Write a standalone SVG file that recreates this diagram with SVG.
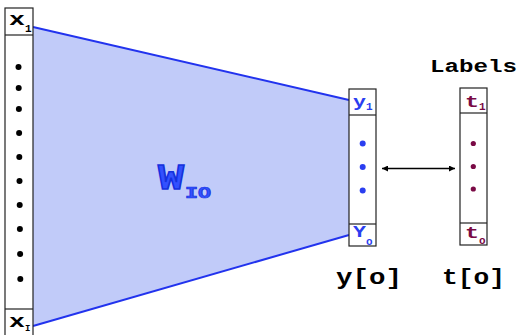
<svg xmlns="http://www.w3.org/2000/svg" width="518" height="335" viewBox="0 0 518 335">
<style>
.box{fill:#fff;stroke:#222;stroke-width:1.2}
.mono{font-family:"Liberation Mono","Courier New",monospace;font-weight:bold}
.bk{fill:#000}
.bl{fill:#2a3ef0}
.mr{fill:#7a0a45}
</style>
<defs>
<marker id="ah" viewBox="0 0 10 10" refX="10" refY="5" markerWidth="9" markerHeight="6" orient="auto-start-reverse" markerUnits="userSpaceOnUse">
<path d="M0,0 L10,5 L0,10 Z" fill="#000"/>
</marker>
</defs>
<rect width="518" height="335" fill="#fff"/>
<g id="weights">
<polygon points="33,27 349,100 349,235 33,326" fill="#c1cbf9"/>
<line x1="33" y1="27" x2="349" y2="100" stroke="#2233ee" stroke-width="2"/>
<line x1="33" y1="326" x2="349" y2="235" stroke="#2233ee" stroke-width="2"/>
<text class="mono" x="158" y="189" font-size="36" fill="#3350ff" stroke="#1530dd" stroke-width="1.4" textLength="26" lengthAdjust="spacingAndGlyphs">W</text>
<text class="mono" x="185" y="198" font-size="16" fill="#3350ff" stroke="#1530dd" stroke-width="0.7" textLength="26" lengthAdjust="spacingAndGlyphs">IO</text>
</g>
<g id="input">
<rect class="box" x="5" y="8" width="28" height="340"/>
<line x1="5" y1="35" x2="33" y2="35" stroke="#222" stroke-width="1.2"/>
<line x1="5" y1="309" x2="33" y2="309" stroke="#222" stroke-width="1.2"/>
<text class="mono bk" x="9" y="25" font-size="18" textLength="16" lengthAdjust="spacingAndGlyphs">x</text>
<text class="mono bk" x="25" y="32" font-size="11">1</text>
<text class="mono bk" x="9" y="327" font-size="18" textLength="16" lengthAdjust="spacingAndGlyphs">x</text>
<text class="mono bk" x="25" y="331" font-size="9">I</text>
<g fill="#000">
<circle cx="18.5" cy="67" r="3"/><circle cx="18.7" cy="88" r="3"/><circle cx="18.9" cy="109" r="3"/>
<circle cx="19.1" cy="133" r="3"/><circle cx="19.3" cy="157" r="3"/><circle cx="19.5" cy="181" r="3"/>
<circle cx="19.7" cy="205" r="3"/><circle cx="19.9" cy="229" r="3"/><circle cx="20.1" cy="254" r="3"/>
<circle cx="20.3" cy="279" r="3"/>
</g>
</g>
<g id="output">
<rect class="box" x="349" y="89" width="27" height="157"/>
<line x1="349" y1="115" x2="376" y2="115" stroke="#222" stroke-width="1.2"/>
<line x1="349" y1="224" x2="376" y2="224" stroke="#222" stroke-width="1.2"/>
<text class="mono bl" x="353" y="107" font-size="16" textLength="13" lengthAdjust="spacingAndGlyphs">y</text>
<text class="mono bl" x="366" y="110" font-size="11">1</text>
<text class="mono bl" x="353" y="237" font-size="16" textLength="13" lengthAdjust="spacingAndGlyphs">Y</text>
<text class="mono bl" x="366" y="245" font-size="11">o</text>
<g class="bl"><circle cx="362.7" cy="143.5" r="3"/><circle cx="362.7" cy="167" r="3"/><circle cx="362.7" cy="190.5" r="3"/></g>
<text class="mono bk" x="336" y="284" font-size="22" textLength="66" lengthAdjust="spacingAndGlyphs">y[o]</text>
</g>
<g id="labels">
<text class="mono bk" x="430" y="72" font-size="19" textLength="87" lengthAdjust="spacingAndGlyphs">Labels</text>
<rect class="box" x="460" y="88" width="27" height="157"/>
<line x1="460" y1="113" x2="487" y2="113" stroke="#222" stroke-width="1.2"/>
<line x1="460" y1="223" x2="487" y2="223" stroke="#222" stroke-width="1.2"/>
<text class="mono mr" x="465" y="107" font-size="16" textLength="14" lengthAdjust="spacingAndGlyphs">t</text>
<text class="mono mr" x="479" y="110" font-size="11">1</text>
<text class="mono mr" x="465" y="238" font-size="16" textLength="14" lengthAdjust="spacingAndGlyphs">t</text>
<text class="mono mr" x="479" y="244" font-size="11">o</text>
<g class="mr"><circle cx="473.3" cy="143.5" r="2.6"/><circle cx="473.3" cy="166.5" r="2.6"/><circle cx="473.3" cy="189" r="2.6"/></g>
<text class="mono bk" x="442" y="284" font-size="22" textLength="63" lengthAdjust="spacingAndGlyphs">t[o]</text>
</g>
<g id="connectors">
<line x1="382" y1="168.5" x2="455" y2="168.5" stroke="#000" stroke-width="1.3" marker-start="url(#ah)" marker-end="url(#ah)"/>
</g>
</svg>
